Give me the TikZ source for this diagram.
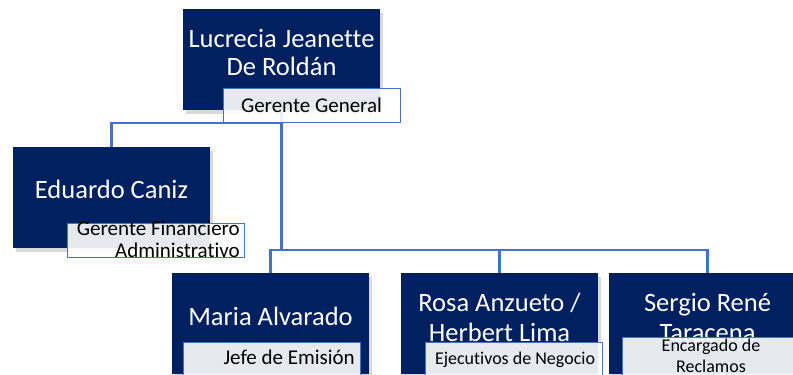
\documentclass[tikz,border=0pt]{standalone}
\usepackage{fontspec}
\setmainfont{Carlito}[Ligatures=NoCommon]
\usetikzlibrary{shadows}
\definecolor{navy}{RGB}{0,32,96}
\definecolor{connblue}{RGB}{68,114,196}
\begin{document}
\begin{tikzpicture}[x=1pt,y=-1pt,
  person/.style={fill=navy, draw=none, inner sep=0pt, outer sep=0pt,
    minimum width=197pt, minimum height=101pt, anchor=north west,
    drop shadow={opacity=0.3, shadow xshift=3pt, shadow yshift=-4pt}},
  lbl/.style={draw=connblue, line width=0.9pt, fill=white, fill opacity=0.9,
    inner sep=0pt, minimum width=177pt, minimum height=34pt, anchor=north west},
  nametext/.style={text=white, inner sep=0pt, anchor=base, font=\fontsize{26.5}{32}\selectfont},
  ltext/.style={text=black, inner sep=0pt, font=\fontsize{21}{25}\selectfont},
  stext/.style={text=black, inner sep=0pt, font=\fontsize{18}{22}\selectfont},
  conn/.style={draw=connblue, line width=2.4pt}]
\useasboundingbox (0,0) rectangle (793,375);
\clip (0,0) rectangle (793,375);
% boxes
\node[person] (lucrecia) at (183,9) {};
\node[person] (eduardo) at (13,147) {};
\node[person] (maria) at (172,273) {};
\node[person] (rosa) at (401,273) {};
\node[person] (sergio) at (609,273) {};
% connectors
\coordinate (bus1) at (0,123);
\coordinate (bus2) at (0,250);
\draw[conn] (eduardo.north) |- (lucrecia.south |- bus1);
\draw[conn] (lucrecia.south) -- (lucrecia.south |- bus2);
\draw[conn] (maria.north) |- (sergio.north |- bus2) -- (sergio.north);
\draw[conn] (rosa.north) -- (rosa.north |- bus2);
% names
\node[nametext] (n1a) at (281.5,47) {Lucrecia Jeanette};
\node[nametext] (n1b) at (281.5,75) {De Roldán};
\node[nametext] (n2) at (111.5,198) {Eduardo Caniz};
\node[nametext] (n3) at (270.5,325) {Maria Alvarado};
\node[nametext] (n4a) at (499.5,311) {Rosa Anzueto /};
\node[nametext] (n4b) at (499.5,341) {Herbert Lima};
\node[nametext] (n5a) at (707.5,311) {Sergio René};
\node[nametext] (n5b) at (707.5,341) {Taracena};
% labels
\node[lbl] (gg) at (223,88) {};
\node[lbl] (gfa) at (67,223) {};
\node[lbl, minimum height=45pt] (je) at (183,342) {};
\node[lbl, minimum height=45pt] (en) at (425,342) {};
\node[lbl, minimum height=50pt] (ec) at (622,337) {};
\node[ltext, anchor=base] (t1) at (311.5,112) {Gerente General};
\node[ltext, anchor=base east] (t2a) at (240,235) {Gerente Financiero};
\node[ltext, anchor=base east] (t2b) at (240,257) {Administrativo};
\node[ltext, anchor=base east] (t3) at (355,364) {Jefe de Emisión};
\node[stext, anchor=base] (t4) at (515,364) {Ejecutivos de Negocio};
\node[stext, anchor=base] (t5a) at (711,351) {Encargado de};
\node[stext, anchor=base] (t5b) at (711,372) {Reclamos};
\end{tikzpicture}
\end{document}
